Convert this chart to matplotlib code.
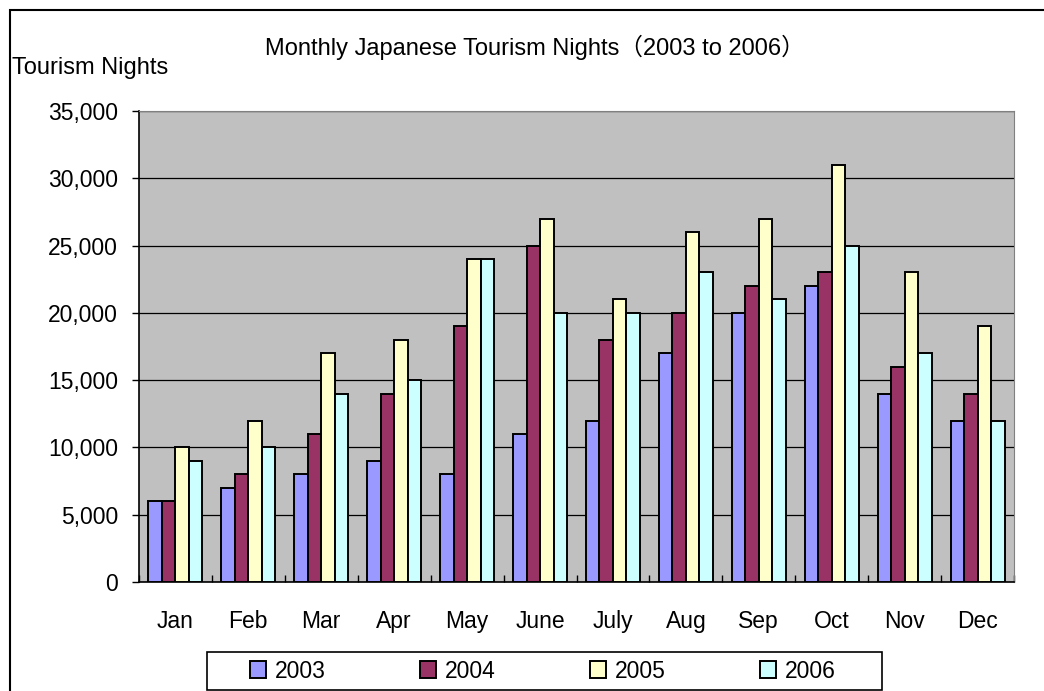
import numpy as np
import matplotlib.pyplot as plt
from matplotlib.ticker import FuncFormatter
from matplotlib.patches import Rectangle

months = ['Jan', 'Feb', 'Mar', 'Apr', 'May', 'June', 'July', 'Aug', 'Sep', 'Oct', 'Nov', 'Dec']
years = ['2003', '2004', '2005', '2006']
nights_2003 = [6000, 7000, 8000, 9000, 8000, 11000, 12000, 17000, 20000, 22000, 14000, 12000]
nights_2004 = [6000, 8000, 11000, 14000, 19000, 25000, 18000, 20000, 22000, 23000, 16000, 14000]
nights_2005 = [10000, 12000, 17000, 18000, 24000, 27000, 21000, 26000, 27000, 31000, 23000, 19000]
nights_2006 = [9000, 10000, 14000, 15000, 24000, 20000, 20000, 23000, 21000, 25000, 17000, 12000]
series = [nights_2003, nights_2004, nights_2005, nights_2006]
colors = ['#9999FF', '#993366', '#FFFFCC', '#CCFFFF']

plt.rcParams['font.family'] = ['Liberation Sans', 'Noto Sans CJK JP', 'DejaVu Sans']

W, H = 1044, 691
fig = plt.figure(figsize=(W / 100, H / 100), dpi=100)
ax = fig.add_axes([139 / W, 1 - 582 / H, (1014 - 139) / W, (582 - 111) / H])
ax.set_facecolor('#C0C0C0')

x = np.arange(len(months))
bw = 0.185
for i, (vals, c, yr) in enumerate(zip(series, colors, years)):
    ax.bar(x + (i - 1.5) * bw, vals, width=bw, color=c, edgecolor='black',
           linewidth=1.4, label=yr, zorder=3)

ax.set_xlim(-0.5, len(months) - 0.5)
ax.set_ylim(0, 35000)
ax.set_yticks(np.arange(0, 35001, 5000))
ax.yaxis.set_major_formatter(FuncFormatter(lambda v, p: f'{int(v):,}'))
ax.grid(axis='y', color='black', linewidth=0.9, zorder=1)
ax.set_xticks(x)
ax.set_xticklabels(months)
ax.set_xticks(np.arange(-0.5, len(months)), minor=True)
ax.tick_params(axis='x', which='major', length=0, pad=20, labelsize=16.5)
ax.tick_params(axis='x', which='minor', length=5, direction='in', width=1)
ax.tick_params(axis='y', length=5, width=1, labelsize=16.5, pad=10)
for s in ['top', 'right']:
    ax.spines[s].set_color('#808080')
for s in ['left', 'bottom']:
    ax.spines[s].set_color('black')
    ax.spines[s].set_linewidth(1.2)

fig.text(535 / W, 1 - 47 / H, 'Monthly Japanese Tourism Nights\uff082003 to 2006\uff09',
         ha='center', va='center', fontsize=17)
fig.text(12 / W, 1 - 68 / H, 'Tourism Nights', ha='left', va='center', fontsize=17)

# outer frame
fig.patches.append(Rectangle((10 / W, -0.01), 1.1, 1 - 10 / H + 0.01, transform=fig.transFigure,
                             fill=False, edgecolor='black', linewidth=1.5))

# legend box
fig.patches.append(Rectangle((207 / W, 1 - 690 / H), 675 / W, 38 / H, transform=fig.transFigure,
                             facecolor='white', edgecolor='black', linewidth=1.2))
leg = fig.legend(loc='center', bbox_to_anchor=(543 / W, 1 - 671 / H), ncol=4,
                 fontsize=16.5, frameon=False,
                 handlelength=0.7, handleheight=0.7, columnspacing=4.1, handletextpad=0.4,
                 borderpad=0.2)

fig.savefig('out.png', dpi=100)
